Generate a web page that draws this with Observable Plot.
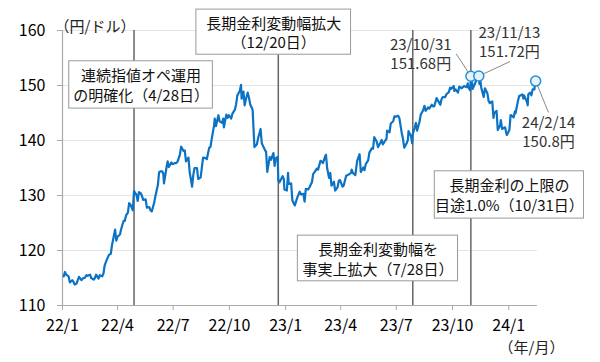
<!DOCTYPE html>
<html><head><meta charset="utf-8">
<script src="https://cdn.jsdelivr.net/npm/d3@7"></script>
<script src="https://cdn.jsdelivr.net/npm/@observablehq/plot@0.6"></script>
<style>
body{margin:0;background:#fff;}
#chart{position:relative;width:600px;height:362px;overflow:hidden;}
</style></head><body><div id="chart"></div>
<script>
// USD/JPY (円/ドル)
const dates = [
"2022-01-03","2022-01-05","2022-01-07","2022-01-11","2022-01-13","2022-01-17","2022-01-19","2022-01-21","2022-01-24","2022-01-26","2022-01-28",
"2022-02-01","2022-02-03","2022-02-07","2022-02-09","2022-02-11","2022-02-15","2022-02-17","2022-02-21","2022-02-23","2022-02-25",
"2022-03-01","2022-03-03","2022-03-07","2022-03-09","2022-03-11","2022-03-14","2022-03-16","2022-03-18","2022-03-21","2022-03-23","2022-03-25","2022-03-28","2022-03-30",
"2022-04-01","2022-04-05","2022-04-07","2022-04-11","2022-04-13","2022-04-15","2022-04-18","2022-04-20","2022-04-22","2022-04-26","2022-04-28",
"2022-05-02","2022-05-04","2022-05-06","2022-05-09","2022-05-11","2022-05-13","2022-05-17","2022-05-19","2022-05-23","2022-05-25","2022-05-27","2022-05-31",
"2022-06-02","2022-06-06","2022-06-08","2022-06-10","2022-06-13","2022-06-15","2022-06-16","2022-06-20","2022-06-22","2022-06-24","2022-06-28","2022-06-30",
"2022-07-04","2022-07-06","2022-07-08","2022-07-12","2022-07-14","2022-07-18","2022-07-20","2022-07-22","2022-07-26","2022-07-28",
"2022-08-01","2022-08-03","2022-08-05","2022-08-09","2022-08-11","2022-08-15","2022-08-17","2022-08-19","2022-08-23","2022-08-25","2022-08-29","2022-08-31",
"2022-09-02","2022-09-06","2022-09-07","2022-09-09","2022-09-13","2022-09-15","2022-09-19","2022-09-21","2022-09-22","2022-09-26","2022-09-28","2022-09-30",
"2022-10-04","2022-10-06","2022-10-10","2022-10-12","2022-10-14","2022-10-18","2022-10-20","2022-10-21","2022-10-24","2022-10-26","2022-10-28","2022-10-31",
"2022-11-02","2022-11-04","2022-11-08","2022-11-10","2022-11-11","2022-11-15","2022-11-17","2022-11-21","2022-11-23","2022-11-25","2022-11-29","2022-11-30",
"2022-12-02","2022-12-06","2022-12-08","2022-12-12","2022-12-14","2022-12-16","2022-12-19","2022-12-20","2022-12-22","2022-12-27","2022-12-29","2022-12-30",
"2023-01-03","2023-01-05","2023-01-06","2023-01-10","2023-01-12","2023-01-16","2023-01-18","2023-01-20","2023-01-24","2023-01-26","2023-01-30",
"2023-02-01","2023-02-03","2023-02-07","2023-02-09","2023-02-13","2023-02-15","2023-02-17","2023-02-21","2023-02-23","2023-02-27",
"2023-03-01","2023-03-03","2023-03-07","2023-03-08","2023-03-10","2023-03-13","2023-03-15","2023-03-17","2023-03-21","2023-03-23","2023-03-27","2023-03-29","2023-03-31",
"2023-04-04","2023-04-06","2023-04-10","2023-04-12","2023-04-14","2023-04-18","2023-04-19","2023-04-21","2023-04-25","2023-04-28",
"2023-05-02","2023-05-04","2023-05-08","2023-05-10","2023-05-12","2023-05-16","2023-05-18","2023-05-22","2023-05-24","2023-05-26","2023-05-30",
"2023-06-01","2023-06-05","2023-06-07","2023-06-09","2023-06-13","2023-06-15","2023-06-16","2023-06-20","2023-06-22","2023-06-26","2023-06-28","2023-06-30",
"2023-07-04","2023-07-06","2023-07-10","2023-07-12","2023-07-14","2023-07-18","2023-07-20","2023-07-21","2023-07-25","2023-07-27","2023-07-28","2023-07-31",
"2023-08-02","2023-08-04","2023-08-08","2023-08-10","2023-08-14","2023-08-16","2023-08-18","2023-08-22","2023-08-24","2023-08-28","2023-08-30",
"2023-09-01","2023-09-05","2023-09-07","2023-09-11","2023-09-13","2023-09-15","2023-09-19","2023-09-21","2023-09-25","2023-09-27","2023-09-29",
"2023-10-03","2023-10-04","2023-10-06","2023-10-10","2023-10-12","2023-10-16","2023-10-18","2023-10-20","2023-10-24","2023-10-26","2023-10-27","2023-10-30","2023-10-31",
"2023-11-01","2023-11-02","2023-11-03","2023-11-07","2023-11-09","2023-11-10","2023-11-13","2023-11-14","2023-11-15","2023-11-17","2023-11-20","2023-11-21","2023-11-23","2023-11-27","2023-11-29",
"2023-12-01","2023-12-05","2023-12-07","2023-12-08","2023-12-12","2023-12-14","2023-12-18","2023-12-19","2023-12-21","2023-12-26","2023-12-28","2023-12-29",
"2024-01-02","2024-01-04","2024-01-05","2024-01-09","2024-01-11","2024-01-12","2024-01-16","2024-01-18","2024-01-19","2024-01-23","2024-01-25","2024-01-26","2024-01-29","2024-01-31",
"2024-02-01","2024-02-02","2024-02-05","2024-02-07","2024-02-09","2024-02-12","2024-02-13","2024-02-14"
];
const values = [
115.3,116.1,115.6,115.3,114.2,114.6,114.3,113.8,114.0,114.6,115.2,
114.6,114.9,115.1,115.5,115.4,115.6,115.0,114.7,115.0,115.6,
114.9,115.5,115.3,115.8,117.3,118.2,118.7,119.2,119.4,121.0,122.1,123.8,121.8,
122.5,122.9,123.9,125.4,125.4,126.4,126.9,128.6,128.4,127.3,130.8,
130.1,129.0,130.6,130.4,129.9,129.2,129.3,127.8,127.9,127.3,127.1,128.7,
129.9,131.9,134.2,134.4,134.4,133.9,132.2,135.0,136.2,135.2,136.0,135.7,
135.9,135.9,136.1,137.4,138.9,138.1,138.2,136.2,136.9,134.3,
131.6,133.8,135.0,135.0,133.0,133.3,135.1,136.9,136.8,136.6,138.7,138.8,
140.2,142.8,144.0,142.6,144.6,143.5,143.2,144.0,142.4,144.7,144.1,144.6,
144.0,144.9,145.6,146.6,148.2,149.0,150.1,147.6,148.9,146.4,147.5,148.7,
147.8,146.6,145.6,140.9,138.8,139.3,140.4,142.1,139.5,139.0,138.1,138.0,
134.3,137.0,136.5,137.7,135.4,136.8,137.0,132.7,132.4,133.5,133.0,131.1,
130.9,134.1,132.1,132.2,129.1,128.2,128.9,129.6,130.7,130.2,130.3,
128.9,131.2,131.1,131.5,132.4,133.9,134.2,134.9,134.7,136.3,
136.2,135.9,137.2,137.4,134.9,133.2,134.1,131.8,132.5,130.9,131.5,132.7,132.8,
131.6,131.8,133.6,133.7,133.8,134.1,134.7,134.1,133.7,136.3,
137.5,134.3,135.1,134.6,135.7,136.4,137.8,138.6,138.5,140.6,139.8,
138.8,139.6,140.1,139.3,140.0,140.3,141.8,141.5,143.1,143.5,144.4,144.3,
144.5,144.1,141.3,140.3,138.7,139.5,140.1,141.7,140.8,139.5,141.2,142.3,
143.2,141.8,143.4,144.7,145.5,146.3,145.4,146.0,145.8,146.5,146.2,
146.2,147.7,147.3,146.5,147.5,147.9,147.9,148.4,148.8,149.6,149.4,
149.9,149.0,149.3,148.7,149.8,149.5,149.7,149.9,149.7,150.4,149.6,149.1,151.68,
150.9,150.4,149.4,150.4,151.1,151.5,151.72,150.3,151.4,149.6,148.3,147.9,149.5,148.6,147.2,
146.8,147.1,144.1,144.9,145.4,141.9,142.8,143.7,142.1,142.4,141.3,141.0,
141.9,144.6,144.6,144.2,145.3,144.9,147.2,148.1,148.1,148.4,147.6,148.2,147.5,146.9,
146.4,148.4,148.7,148.2,149.3,149.3,150.7,150.8
];

const xTickDates = ["2022-01-01","2022-04-01","2022-07-01","2022-10-01","2023-01-01","2023-04-01","2023-07-01","2023-10-01","2024-01-01"];
const xTickLabels = ["22/1","22/4","22/7","22/10","23/1","23/4","23/7","23/10","24/1"];
const yTicks = [110,120,130,140,150,160];
const yUnit = "（円/ドル）";
const xUnit = "（年/月）";

// Policy events (vertical lines) and their notes
const eventDates = ["2022-04-28","2022-12-20","2023-07-28","2023-10-31"];
const noteTexts = ["連続指値オペ運用\nの明確化（4/28日）","長期金利変動幅拡大\n（12/20日）","長期金利変動幅を\n事実上拡大（7/28日）","長期金利の上限の\n目途1.0%（10/31日）"];
// note box anchors (date span, value span)
const noteX1 = ["2022-01-12","2022-08-08","2023-01-21","2023-09-02"];
const noteX2 = ["2022-09-04","2023-04-18","2023-10-10","2024-05-03"];
const noteY1 = [145.8,155.6,114.4,125.8];
const noteY2 = [154.4,163.8,122.7,134.4];

// Highlighted points
const hlDates = ["2023-10-31","2023-11-13","2024-02-14"];
const hlValues = [151.68,151.72,150.8];
const hlLabels = ["23/10/31\n151.68円","23/11/13\n151.72円","24/2/14\n150.8円"];
const hlLabelX = ["2023-08-10","2024-01-02","2024-03-06"];
const hlLabelY = [155.8,158.1,141.6];
const leadX = ["2023-10-07","2024-01-03","2024-03-06"];
const leadY = [155.76,154.36,145.1];

const D = s => new Date(s + "T00:00:00Z");
const series = dates.map((d, i) => ({date: D(d), value: values[i]}));
const events = eventDates.map(D);
const notes = noteTexts.map((t, i) => {
  const a = D(noteX1[i]), b = D(noteX2[i]);
  return {text: t, x1: a, x2: b, y1: noteY1[i], y2: noteY2[i], xm: new Date((+a + +b) / 2), ym: (noteY1[i] + noteY2[i]) / 2};
});
const hl = hlDates.map((d, i) => ({date: D(d), value: hlValues[i], label: hlLabels[i], lx: D(hlLabelX[i]), ly: hlLabelY[i], sx: D(leadX[i]), sy: leadY[i]}));
const tickMap = new Map(xTickDates.map((d, i) => [+D(d), xTickLabels[i]]));
const font = "'Noto Sans CJK JP', 'Noto Sans', sans-serif";

const chart = Plot.plot({
  width: 600, height: 362,
  marginLeft: 62, marginRight: 63, marginTop: 30, marginBottom: 57,
  style: {fontFamily: font, fontSize: "16px", color: "#000", background: "#fff", overflow: "visible"},
  x: {type: "utc", domain: [D("2022-01-01"), D("2024-02-17")]},
  y: {domain: [110, 160]},
  marks: [
    Plot.gridY(yTicks.slice(1), {stroke: "#e4e4e4", strokeOpacity: 1, strokeWidth: 1}),
    Plot.ruleX(events, {y1: 110, y2: 160, stroke: "#666", strokeWidth: 1.5}),
    Plot.ruleY([110], {stroke: "#aaa", strokeWidth: 1.2}),
    Plot.ruleX([D("2022-01-01")], {y1: 110, y2: 160, stroke: "#aaa", strokeWidth: 1.2}),
    Plot.axisX({ticks: xTickDates.map(D), tickFormat: d => tickMap.get(+d), tickSize: 5, tickPadding: 9, fontSize: 16, stroke: "#aaa", color: "#000"}),
    Plot.axisY({ticks: yTicks, tickSize: 5, tickPadding: 12, fontSize: 16, stroke: "#aaa", label: null}),
    Plot.lineY(series, {x: "date", y: "value", stroke: "#0b72c4", strokeWidth: 2.2, strokeLinejoin: "round"}),
    Plot.rect(notes, {x1: "x1", x2: "x2", y1: "y1", y2: "y2", fill: "#fff", stroke: "#999", strokeWidth: 1}),
    Plot.text(notes, {x: "xm", y: "ym", text: "text", fontSize: 15, lineHeight: 1.32, fill: "#111"}),
    Plot.link(hl, {x1: "sx", y1: "sy", x2: "date", y2: "value", stroke: "#888", strokeWidth: 1}),
    Plot.dot(hl, {x: "date", y: "value", r: 5, fill: "#e6f3fc", stroke: "#2590d8", strokeWidth: 1.5}),
    Plot.text(hl, {x: "lx", y: "ly", text: "label", fontSize: 15, lineHeight: 1.27, fill: "#333"}),
    Plot.text([yUnit], {frameAnchor: "top-left", dx: -8, dy: -9, textAnchor: "start", fontSize: 15, fill: "#222"}),
    Plot.text([xUnit], {frameAnchor: "bottom-right", dx: -6, dy: 47, textAnchor: "middle", fontSize: 15, fill: "#222"})
  ]
});
document.getElementById("chart").appendChild(chart);
</script>
</body></html>
